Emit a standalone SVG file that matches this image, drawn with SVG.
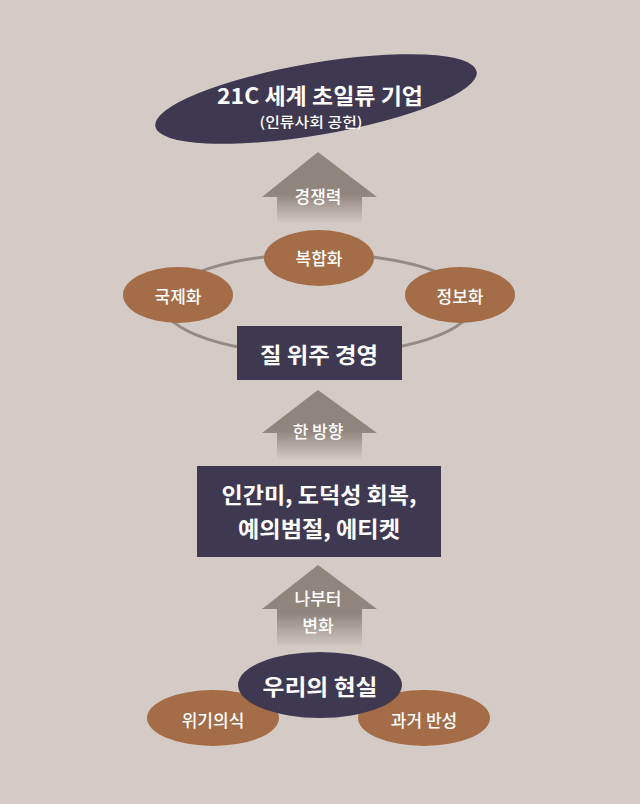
<svg xmlns="http://www.w3.org/2000/svg" width="640" height="804" viewBox="0 0 640 804">
<style>
  .bg{fill:#d4cbc6}
  .dark{fill:#3e3850}
  .brown{fill:#a46c47}
  .arrow{fill:url(#fade)}
  .ring{fill:none;stroke:#958b84;stroke-width:3}
  text{font-family:"Noto Sans CJK KR","Noto Sans",sans-serif;fill:#ffffff;text-anchor:middle}
  .big{font-size:22px;font-weight:bold}
  .mid{font-size:17px;font-weight:500}
  .small{font-size:14px;font-weight:500}
</style>
<defs>
  <linearGradient id="fade" x1="0" y1="0" x2="0" y2="1">
    <stop offset="0" stop-color="#8f857d"/>
    <stop offset="0.58" stop-color="#8f857d"/>
    <stop offset="1" stop-color="#8f857d" stop-opacity="0"/>
  </linearGradient>
</defs>
<rect class="bg" x="0" y="0" width="640" height="804"/>

<g id="connectors">
  <path id="arrow-top" class="arrow" d="M318,152 L377,197 L362,197 L362,224 L277,224 L277,197 L262,197 Z"/>
  <path id="arrow-mid" class="arrow" d="M318,390 L377,433 L362,433 L362,460 L277,460 L277,433 L262,433 Z"/>
  <path id="arrow-bot" class="arrow" d="M318,565 L377,609 L362,609 L362,648 L277,648 L277,609 L262,609 Z"/>
  <ellipse id="ring" class="ring" cx="318" cy="304" rx="155" ry="50"/>
</g>

<g id="label-arrows">
  <text class="mid" x="318" y="203">경쟁력</text>
  <text class="mid" x="318" y="438">한 방향</text>
  <text class="mid" x="318" y="605">나부터</text>
  <text class="mid" x="318" y="632">변화</text>
</g>

<g id="node-goal">
  <ellipse class="dark" cx="316" cy="99" rx="163" ry="36" transform="rotate(-9.7 316 99)"/>
  <text class="big" x="320" y="104" font-size="23" textLength="206" lengthAdjust="spacingAndGlyphs">21C 세계 초일류 기업</text>
  <text class="small" x="311" y="127" textLength="103" lengthAdjust="spacingAndGlyphs">(인류사회 공헌)</text>
</g>

<g id="node-bokhap">
  <ellipse class="brown" cx="319" cy="258" rx="55" ry="28"/>
  <text class="mid" x="319" y="265">복합화</text>
</g>
<g id="node-gukje">
  <ellipse class="brown" cx="178" cy="295" rx="55" ry="28"/>
  <text class="mid" x="178" y="303">국제화</text>
</g>
<g id="node-jeongbo">
  <ellipse class="brown" cx="460" cy="295" rx="55" ry="28"/>
  <text class="mid" x="460" y="303">정보화</text>
</g>

<g id="node-quality">
  <rect class="dark" x="237" y="326" width="165" height="54"/>
  <text class="big" x="319" y="363" textLength="118" lengthAdjust="spacingAndGlyphs">질 위주 경영</text>
</g>

<g id="node-values">
  <rect class="dark" x="197" y="466" width="244" height="91"/>
  <text class="big" x="319" y="503" textLength="195" lengthAdjust="spacingAndGlyphs">인간미, 도덕성 회복,</text>
  <text class="big" x="319" y="537" textLength="162" lengthAdjust="spacingAndGlyphs">예의범절, 에티켓</text>
</g>

<g id="node-crisis">
  <ellipse class="brown" cx="213" cy="718" rx="66" ry="28"/>
  <text class="mid" x="213" y="727">위기의식</text>
</g>
<g id="node-reflect">
  <ellipse class="brown" cx="424" cy="718" rx="66" ry="28"/>
  <text class="mid" x="424" y="727">과거 반성</text>
</g>
<g id="node-reality">
  <ellipse class="dark" cx="320" cy="685" rx="82" ry="33"/>
  <text class="big" x="320" y="695" textLength="115" lengthAdjust="spacingAndGlyphs">우리의 현실</text>
</g>
</svg>
